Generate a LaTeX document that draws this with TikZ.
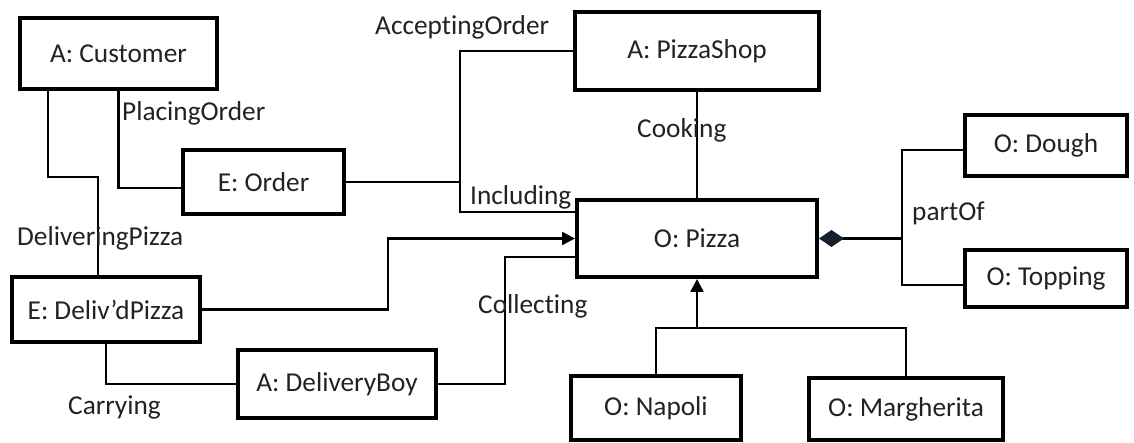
\documentclass[tikz,border=0pt]{standalone}
\usepackage{fontspec}
\setmainfont{Carlito}[Ligatures=NoCommon]
\usetikzlibrary{arrows.meta}
\definecolor{txt}{HTML}{222222}
\definecolor{diam}{HTML}{16202E}
\begin{document}
\begin{tikzpicture}[x=1pt,y=-1pt,
  box/.style={draw, line width=4pt, inner sep=0pt, text=txt, font=\fontsize{27.3pt}{32pt}\selectfont},
  conn/.style={draw, line width=2.5pt},
  lab/.style={anchor=west, inner sep=0pt, text height=17.6pt, text depth=0pt, text=txt, font=\fontsize{27.3pt}{32pt}\selectfont},
  tri/.style={-{Triangle[length=13pt,width=13pt]}}
]
\useasboundingbox (0,0) rectangle (1134,443);
% boxes
\node[box, minimum width=197pt, minimum height=71pt] (cust) at (118.5,53.5) {A: Customer};
\node[box, minimum width=244pt, minimum height=78pt] (shop) at (697,51) {A: PizzaShop};
\node[box, minimum width=161pt, minimum height=64pt] (order) at (263.5,182) {E: Order};
\node[box, minimum width=240pt, minimum height=77pt] (pizza) at (697,238.5) {O: Pizza};
\node[box, minimum width=162pt, minimum height=61pt] (dough) at (1046,145.5) {O: Dough};
\node[box, minimum width=162pt, minimum height=57pt] (top) at (1046,278.5) {O: Topping};
\node[box, minimum width=188pt, minimum height=65pt] (dp) at (106,309.5) {E: Deliv’dPizza};
\node[box, minimum width=198pt, minimum height=68pt] (boy) at (337,384) {A: DeliveryBoy};
\node[box, minimum width=170pt, minimum height=64pt] (nap) at (656,408) {O: Napoli};
\node[box, minimum width=194pt, minimum height=62pt] (mar) at (906,409) {O: Margherita};
% junction coordinates
\coordinate (k1) at (48,177);
\coordinate (k2) at (98,177);
\coordinate (j1) at (460,182);
\coordinate (k3) at (388,238.5);
\coordinate (k4) at (505,257);
\coordinate (k5) at (902,238.5);
\coordinate (k6) at (697,328);
% connectors
\draw[conn] (cust.south) |- ([yshift=-6pt]order.west);
\draw[conn] ([xshift=-70.5pt]cust.south) -- (k1) -- (k2) -- ([xshift=-8pt]dp.north);
\draw[conn] (order.east) -- (j1) |- (shop.west);
\draw[conn] (j1) |- ([yshift=26.5pt]pizza.west);
\draw[conn] (shop.south) -- (pizza.north);
\draw[conn,tri] (dp.east) -| (k3) -- (pizza.west);
\draw[conn] (boy.east) -| (k4) -- ([yshift=-18.5pt]pizza.west);
\draw[conn] (dp.south) |- (boy.west);
\draw[conn,{Diamond[length=25pt,width=17pt,color=diam,fill=diam]}-] (pizza.east) -- (k5);
\draw[conn] ([yshift=-4.5pt]dough.west) -| (k5);
\draw[conn] ([yshift=-6.5pt]top.west) -| (k5);
\draw[conn] (nap.north) |- (k6) -| (mar.north);
\draw[conn,tri] (k6) -- (pizza.south);
% labels
\node[lab] (l1) at (375,26) {AcceptingOrder};
\node[lab] (l2) at (122,112) {PlacingOrder};
\node[lab] (l3) at (637,129) {Cooking};
\node[lab] (l4) at (470,196) {Including};
\node[lab] (l5) at (17,237) {DeliveringPizza};
\node[lab] (l6) at (478,305) {Collecting};
\node[lab] (l7) at (68,406) {Carrying};
\node[lab] (l8) at (912,212) {partOf};
\end{tikzpicture}
\end{document}
